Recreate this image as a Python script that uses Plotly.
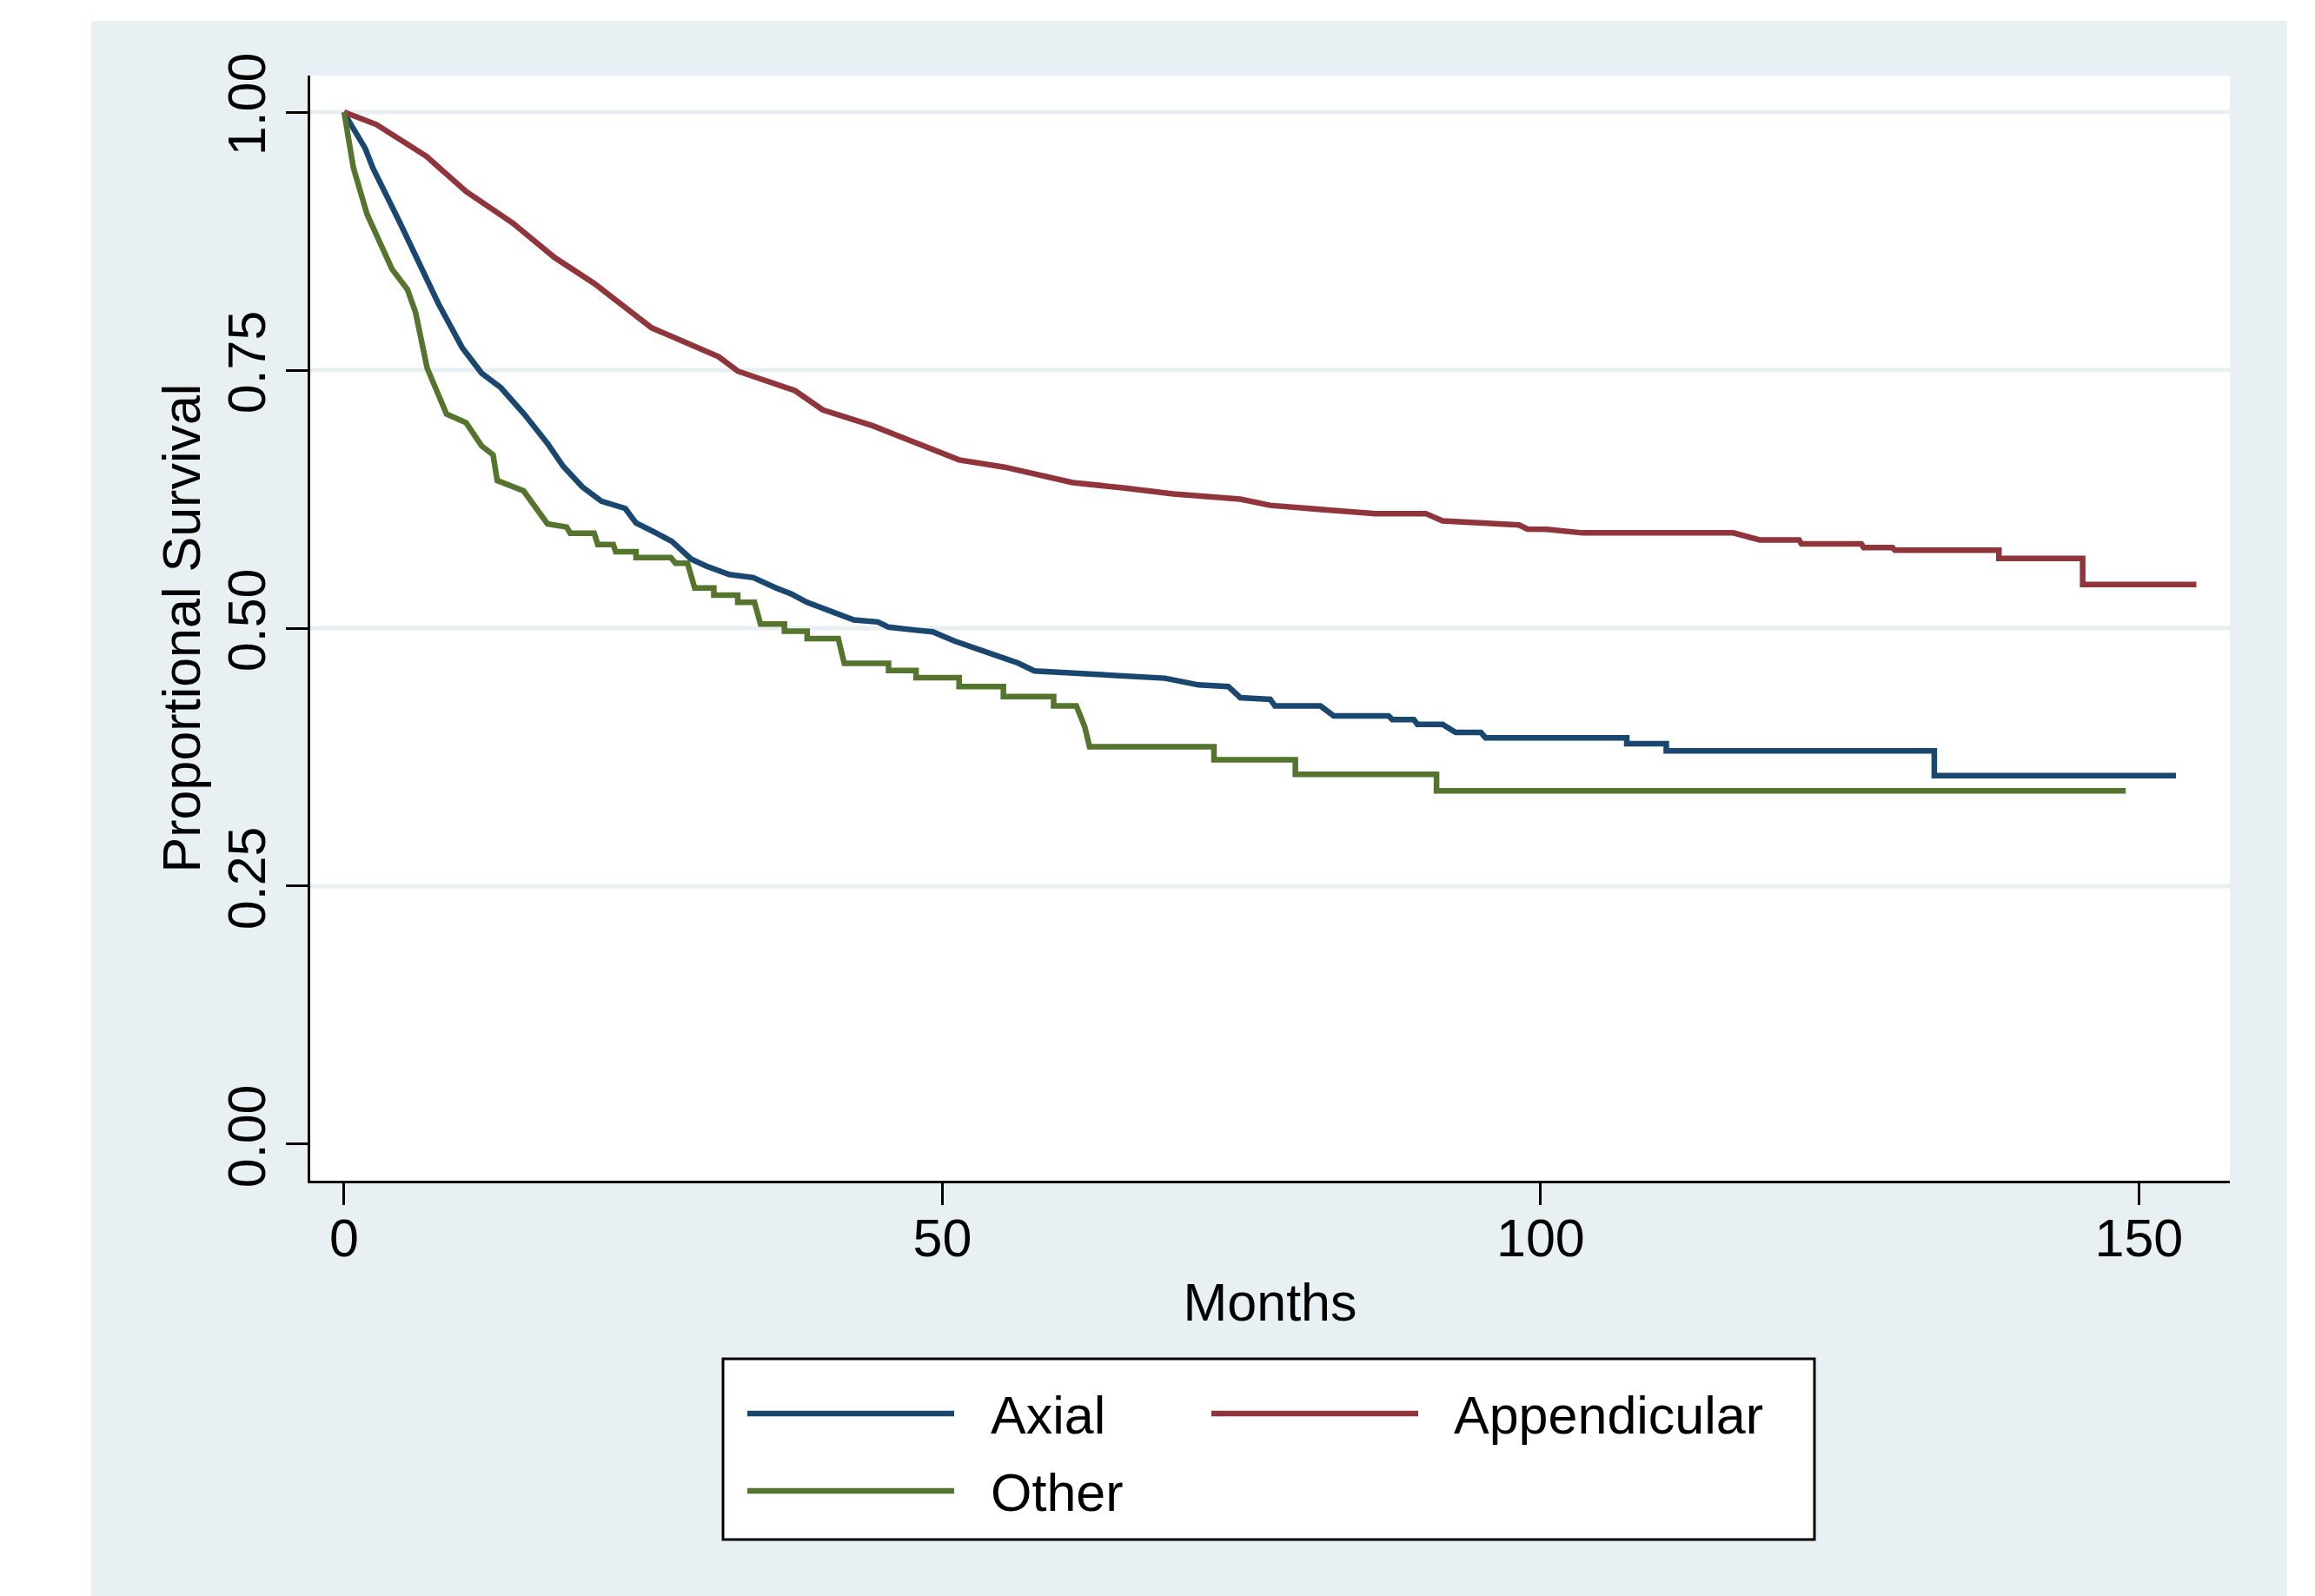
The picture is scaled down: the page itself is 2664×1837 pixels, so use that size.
import plotly.graph_objects as go

# ---------------- data ----------------
months_axial = [0, 0.16, 1.76, 2.4, 4.68, 6.3, 7.9, 9.86, 11.5, 13.1, 15.05, 17.0, 18.3, 19.9,
                21.5, 23.5, 24.4, 26.1, 27.4, 29.0, 30.3, 32.2, 34.2, 36.1, 37.4, 38.7, 41.0,
                42.6, 44.6, 45.5, 47.8, 49.2, 51.0, 52.8, 54.5, 56.3, 57.7, 61.6, 64.0, 68.6,
                71.4, 73.9, 74.9, 77.4, 77.8, 81.6, 82.7, 87.3, 87.6, 89.4, 89.7, 91.8, 92.9,
                95.0, 95.4, 107.2, 107.2, 110.5, 110.5, 132.9, 132.9, 153.1]
surv_axial = [1.0, 0.996, 0.965, 0.946, 0.8925, 0.853, 0.814, 0.772, 0.747, 0.733, 0.7075, 0.679,
              0.657, 0.637, 0.623, 0.616, 0.602, 0.592, 0.584, 0.567, 0.560, 0.552, 0.549, 0.539,
              0.533, 0.525, 0.515, 0.508, 0.506, 0.501, 0.498, 0.4965, 0.4876, 0.4805, 0.4735,
              0.4663, 0.4586, 0.4565, 0.454, 0.4515, 0.445, 0.4434, 0.4327, 0.431, 0.4246, 0.4246,
              0.415, 0.415, 0.4114, 0.4114, 0.4068, 0.4068, 0.399, 0.399, 0.3938, 0.3937, 0.3881,
              0.3881, 0.381, 0.381, 0.3572, 0.3572]

months_append = [0, 2.7, 6.9, 10.2, 14.1, 17.6, 20.9, 25.7, 31.3, 32.9, 37.7, 40.0, 44.2, 47.5,
                 49.4, 51.4, 55.2, 58.1, 60.9, 65.1, 69.3, 74.9, 77.4, 82.7, 86.2, 90.4, 91.8,
                 98.2, 98.9, 100.5, 103.5, 116.1, 117.6, 118.3, 121.6, 121.8, 126.8, 127.0, 129.4,
                 129.6, 138.3, 138.3, 145.3, 145.3, 154.8]
surv_append = [1.0, 0.988, 0.957, 0.923, 0.8925, 0.859, 0.834, 0.791, 0.763, 0.749, 0.730, 0.7115,
               0.696, 0.681, 0.672, 0.663, 0.656, 0.649, 0.641, 0.636, 0.630, 0.625, 0.619, 0.614,
               0.611, 0.611, 0.604, 0.600, 0.596, 0.5957, 0.5923, 0.5923, 0.588, 0.5855, 0.5855,
               0.5817, 0.5817, 0.578, 0.578, 0.5755, 0.5755, 0.5676, 0.5676, 0.5423, 0.5423]

months_other = [0, 0.78, 1.92, 3.05, 4.0, 5.3, 5.97, 6.94, 8.56, 10.2, 11.5, 12.45, 12.8, 15.0,
                17.0, 18.6, 18.9, 20.9, 21.2, 22.5, 22.7, 24.4, 24.4, 27.3, 27.7, 28.7, 29.3,
                30.9, 30.9, 32.9, 32.9, 34.3, 34.8, 36.8, 36.8, 38.7, 38.7, 41.3, 41.8, 45.5,
                45.5, 47.8, 47.8, 51.4, 51.4, 55.1, 55.1, 59.3, 59.3, 61.2, 61.6, 61.9, 62.3,
                72.7, 72.7, 79.5, 79.5, 91.3, 91.3, 148.9]
surv_other = [1.0, 0.946, 0.901, 0.873, 0.848, 0.828, 0.806, 0.752, 0.7075, 0.699, 0.6765, 0.668,
              0.643, 0.633, 0.601, 0.598, 0.592, 0.592, 0.581, 0.581, 0.574, 0.574, 0.5685,
              0.5685, 0.563, 0.563, 0.539, 0.539, 0.532, 0.532, 0.525, 0.525, 0.504, 0.504, 0.497,
              0.497, 0.490, 0.490, 0.466, 0.466, 0.459, 0.459, 0.452, 0.452, 0.4434, 0.4434,
              0.4338, 0.4338, 0.4246, 0.4246, 0.4134, 0.4044, 0.385, 0.385, 0.3725, 0.3725,
              0.3583, 0.3583, 0.3423, 0.3423]

series_names = ["Axial", "Appendicular", "Other"]
x_ticks = [0, 50, 100, 150]
y_ticks = [0, 0.25, 0.5, 0.75, 1.0]
y_ticktext = ["0.00", "0.25", "0.50", "0.75", "1.00"]

# ---------------- styling ----------------
NAVY = "#1a476f"
MAROON = "#90353b"
GREEN = "#55752f"
PANEL = "#e8f0f3"
GRID = "#e8eff2"
FONT = "Liberation Sans, Arial, Helvetica, sans-serif"
LW = 6.5

W, H = 2664, 1837
L, R, T, B = 357, 2566, 87, 1359


def px(x):
    return (x - L) / (R - L)


def py(y):
    return (B - y) / (B - T)


fig = go.Figure()
for name, t, s, c in [
    (series_names[0], months_axial, surv_axial, NAVY),
    (series_names[1], months_append, surv_append, MAROON),
    (series_names[2], months_other, surv_other, GREEN),
]:
    fig.add_trace(go.Scatter(x=t, y=s, mode="lines", name=name, showlegend=False,
                             line=dict(color=c, width=LW)))

shapes = [
    # outer graph region
    dict(type="rect", xref="paper", yref="paper", x0=px(105), x1=px(2632), y0=py(1837), y1=py(24),
         fillcolor=PANEL, line=dict(width=0), layer="below"),
    # white plot region
    dict(type="rect", xref="paper", yref="paper", x0=0, x1=1, y0=0, y1=1,
         fillcolor="white", line=dict(width=0), layer="below"),
]
for v in y_ticks[1:]:
    shapes.append(dict(type="line", xref="paper", yref="y", x0=0, x1=1, y0=v, y1=v,
                       line=dict(color=GRID, width=5), layer="below"))

# legend (box, samples)
shapes.append(dict(type="rect", xref="paper", yref="paper", x0=px(832), x1=px(2088),
                   y0=py(1772), y1=py(1564), fillcolor="white", line=dict(color="black", width=3),
                   layer="above"))
leg = [(series_names[0], NAVY, 860, 1138, 1627),
       (series_names[1], MAROON, 1394, 1671, 1627),
       (series_names[2], GREEN, 860, 1138, 1716)]
annotations = []
for name, c, lx, tx, yy in leg:
    shapes.append(dict(type="line", xref="paper", yref="paper", x0=px(lx), x1=px(lx + 238),
                       y0=py(yy), y1=py(yy), line=dict(color=c, width=LW), layer="above"))
    annotations.append(dict(xref="paper", yref="paper", x=px(tx), y=py(yy + 2), text=name,
                            showarrow=False, xanchor="left", yanchor="middle",
                            font=dict(family=FONT, size=61, color="black")))

fig.update_layout(
    width=W, height=H,
    margin=dict(l=L, r=W - R, t=T, b=H - B, pad=0),
    paper_bgcolor="white", plot_bgcolor="white",
    font=dict(family=FONT, size=61, color="black"),
    shapes=shapes, annotations=annotations,
    showlegend=False,
)
fig.update_xaxes(range=[-2.83, 157.6], tickvals=x_ticks, ticks="outside", ticklen=25, tickwidth=3,
                 tickcolor="black", showline=True, linewidth=3, linecolor="black",
                 showgrid=False, zeroline=False, ticklabelstandoff=-14,
                 tickfont=dict(family=FONT, size=61, color="black"),
                 title=dict(text="Months", standoff=20, font=dict(family=FONT, size=61, color="black")))
fig.update_yaxes(range=[-0.0354, 1.0354], tickvals=y_ticks, ticktext=y_ticktext, tickangle=-90,
                 ticks="outside", ticklen=25, tickwidth=3, tickcolor="black",
                 showline=True, linewidth=3, linecolor="black", showgrid=False, zeroline=False,
                 tickfont=dict(family=FONT, size=61, color="black"),
                 title=dict(text="Proportional Survival", standoff=0,
                            font=dict(family=FONT, size=61, color="black")))

fig.write_html("out.html")
